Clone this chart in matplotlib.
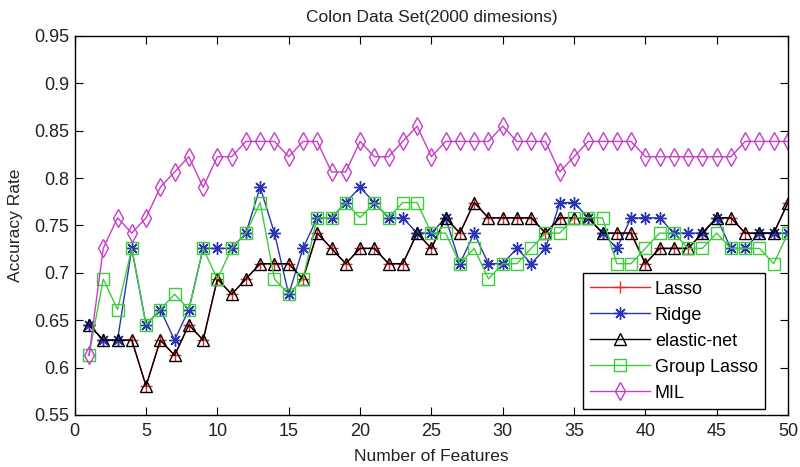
import numpy as np
import matplotlib
matplotlib.use('Agg')
import matplotlib.pyplot as plt

# accuracy values are k/62 (colon data set has 62 samples)
N_SAMPLES = 62
features = list(range(1, 51))

elastic_k = [40, 39, 39, 39, 36, 39, 38, 40, 39, 43,
             42, 43, 44, 44, 44, 43, 46, 45, 44, 45,
             45, 44, 44, 46, 45, 47, 46, 48, 47, 47,
             47, 47, 46, 47, 47, 47, 46, 46, 46, 44,
             45, 45, 45, 46, 47, 47, 46, 46, 46, 48]
lasso_k = list(elastic_k)
ridge_k = [40, 39, 39, 45, 40, 41, 39, 41, 45, 45,
           45, 46, 49, 46, 42, 45, 47, 47, 48, 49,
           48, 47, 47, 46, 46, 47, 44, 46, 44, 44,
           45, 44, 45, 48, 48, 47, 46, 45, 47, 47,
           47, 46, 46, 46, 47, 45, 45, 46, 46, 46]
group_k = [38, 43, 41, 45, 40, 41, 42, 41, 45, 43,
           45, 46, 48, 43, 42, 43, 47, 47, 48, 47,
           48, 47, 48, 48, 46, 46, 44, 45, 43, 44,
           44, 45, 46, 46, 47, 47, 47, 44, 44, 45,
           46, 46, 45, 45, 46, 45, 45, 45, 44, 46]
mil_k = [38, 45, 47, 46, 47, 49, 50, 51, 49, 51,
         51, 52, 52, 52, 51, 52, 52, 50, 50, 52,
         51, 51, 52, 53, 51, 52, 52, 52, 52, 53,
         52, 52, 52, 50, 51, 52, 52, 52, 52, 51,
         51, 51, 51, 51, 51, 51, 52, 52, 52, 52]

plt.rcParams['font.family'] = ['Liberation Sans', 'DejaVu Sans']

fig = plt.figure(figsize=(8, 4.67), dpi=100)
# axes box: x 75..788 px, y 36..415 px
ax = fig.add_axes([0.0934, 0.1114, 0.8916, 0.8116])

x = np.array(features)
ax.plot(x, np.array(lasso_k) / N_SAMPLES, color='#ff2020', lw=1, marker='+',
        ms=9, mew=1, label='Lasso')
ax.plot(x, np.array(ridge_k) / N_SAMPLES, color='#2a35b0', lw=1, marker=(8, 2, 0),
        ms=9, mew=1, label='Ridge')
ax.plot(x, np.array(elastic_k) / N_SAMPLES, color='black', lw=1, marker='^',
        ms=8.5, mew=1, mfc='none', label='elastic-net')
ax.plot(x, np.array(group_k) / N_SAMPLES, color='#3ccc3c', lw=1, marker='s',
        ms=8, mew=1, mfc='none', label='Group Lasso')
ax.plot(x, np.array(mil_k) / N_SAMPLES, color='#c83cc8', lw=1, marker='d',
        ms=9, mew=1, mfc='none', label='MIL')

ax.set_xlim(0, 50)
ax.set_ylim(0.55, 0.95)
ax.set_xticks(range(0, 51, 5))
ax.set_yticks(np.arange(0.55, 0.951, 0.05))
ax.set_yticklabels(['0.55', '0.6', '0.65', '0.7', '0.75', '0.8', '0.85', '0.9', '0.95'])
ax.tick_params(direction='in', top=True, right=True, labelsize=13, length=6,
               labelcolor='#222222')
ax.tick_params(axis='x', pad=6)
ax.tick_params(axis='y', pad=4)
for s in ax.spines.values():
    s.set_linewidth(1)

ax.set_title('Colon Data Set(2000 dimesions)', fontsize=12.5, pad=10, color='#222222')
ax.set_xlabel('Number of Features', fontsize=12.5, labelpad=6, color='#222222')
ax.set_ylabel('Accuracy Rate', fontsize=12.5, labelpad=8, color='#222222')

leg = ax.legend(loc='lower right', bbox_to_anchor=(0.968, 0.016), fontsize=13,
                fancybox=False, edgecolor='black', framealpha=1,
                handlelength=3.3, borderpad=0.4, labelspacing=0.5,
                handletextpad=0.3, borderaxespad=0)
leg.get_frame().set_linewidth(1)

fig.savefig('out.png', dpi=100)
